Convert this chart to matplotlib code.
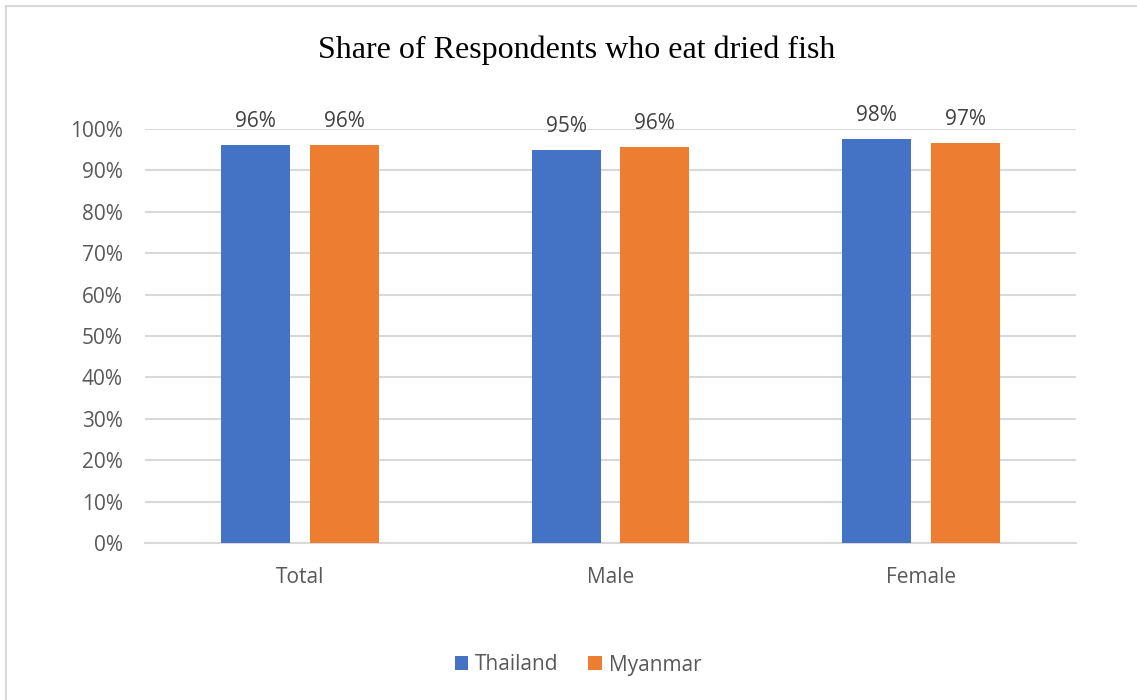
import matplotlib
matplotlib.use("Agg")
import matplotlib.pyplot as plt
from matplotlib.patches import Rectangle
import numpy as np

categories = ["Total", "Male", "Female"]
thailand = [0.962, 0.950, 0.976]
myanmar = [0.962, 0.957, 0.967]
series_names = ["Thailand", "Myanmar"]
yticks = [0.0, 0.1, 0.2, 0.3, 0.4, 0.5, 0.6, 0.7, 0.8, 0.9, 1.0]
ytick_labels = ["0%", "10%", "20%", "30%", "40%", "50%", "60%", "70%", "80%", "90%", "100%"]

BLUE = "#4472C4"
ORANGE = "#ED7D31"
TEXT = "#595959"
GRID = "#D9D9D9"
SANS = ["Open Sans", "DejaVu Sans"]
FS = 15

W, H = 1137, 700
fig = plt.figure(figsize=(W / 100, H / 100), dpi=100)
fig.patch.set_facecolor("white")

# chart frame (right and bottom edges fall outside the canvas)
fig.add_artist(Rectangle((6 / W, -0.05), 1.2, 1 - 6 / H + 0.05,
                         transform=fig.transFigure, fill=False,
                         edgecolor="#D9D9D9", linewidth=1.5))

ax = fig.add_axes([145 / W, 1 - 543 / H, (1076 - 145) / W, (543 - 129) / H])

x = np.arange(len(categories))
bw = 0.222
off = 0.143
b1 = ax.bar(x - off, thailand, bw, color=BLUE, label=series_names[0], zorder=3)
b2 = ax.bar(x + off, myanmar, bw, color=ORANGE, label=series_names[1], zorder=3)

for bars, vals in ((b1, thailand), (b2, myanmar)):
    for rect, v in zip(bars, vals):
        ax.annotate(f"{v:.0%}", (rect.get_x() + rect.get_width() / 2, v),
                    xytext=(0, 9), textcoords="offset points",
                    ha="center", va="bottom", fontsize=FS, color="#404040",
                    family=SANS)

ax.set_xlim(-0.5, 2.5)
ax.set_ylim(0, 1.0)
ax.set_yticks(yticks)
ax.set_yticklabels(ytick_labels, fontsize=FS, color=TEXT, family=SANS)
ax.set_xticks(x)
ax.set_xticklabels(categories, fontsize=FS, color=TEXT, family=SANS)
ax.tick_params(axis="both", length=0)
ax.tick_params(axis="y", pad=16)
ax.tick_params(axis="x", pad=17)

ax.grid(axis="y", color=GRID, linewidth=1.5, zorder=0)
ax.set_axisbelow(True)
for s in ["top", "right", "left"]:
    ax.spines[s].set_visible(False)
ax.spines["bottom"].set_color(GRID)
ax.spines["bottom"].set_linewidth(1.5)
ax.set_facecolor("white")

fig.text(577 / W, 1 - 50 / H, "Share of Respondents who eat dried fish",
         ha="center", va="center", fontsize=23, family="Liberation Serif",
         color="black")

leg = fig.legend(handles=[b1, b2], labels=series_names, loc="center",
                 bbox_to_anchor=(578 / W, 1 - 665 / H), ncol=2, frameon=False,
                 prop={"family": SANS, "size": FS}, handlelength=0.65,
                 handleheight=0.65, handletextpad=0.35, columnspacing=1.4)
for t in leg.get_texts():
    t.set_color(TEXT)

fig.savefig("out.png", dpi=100, facecolor="white")
